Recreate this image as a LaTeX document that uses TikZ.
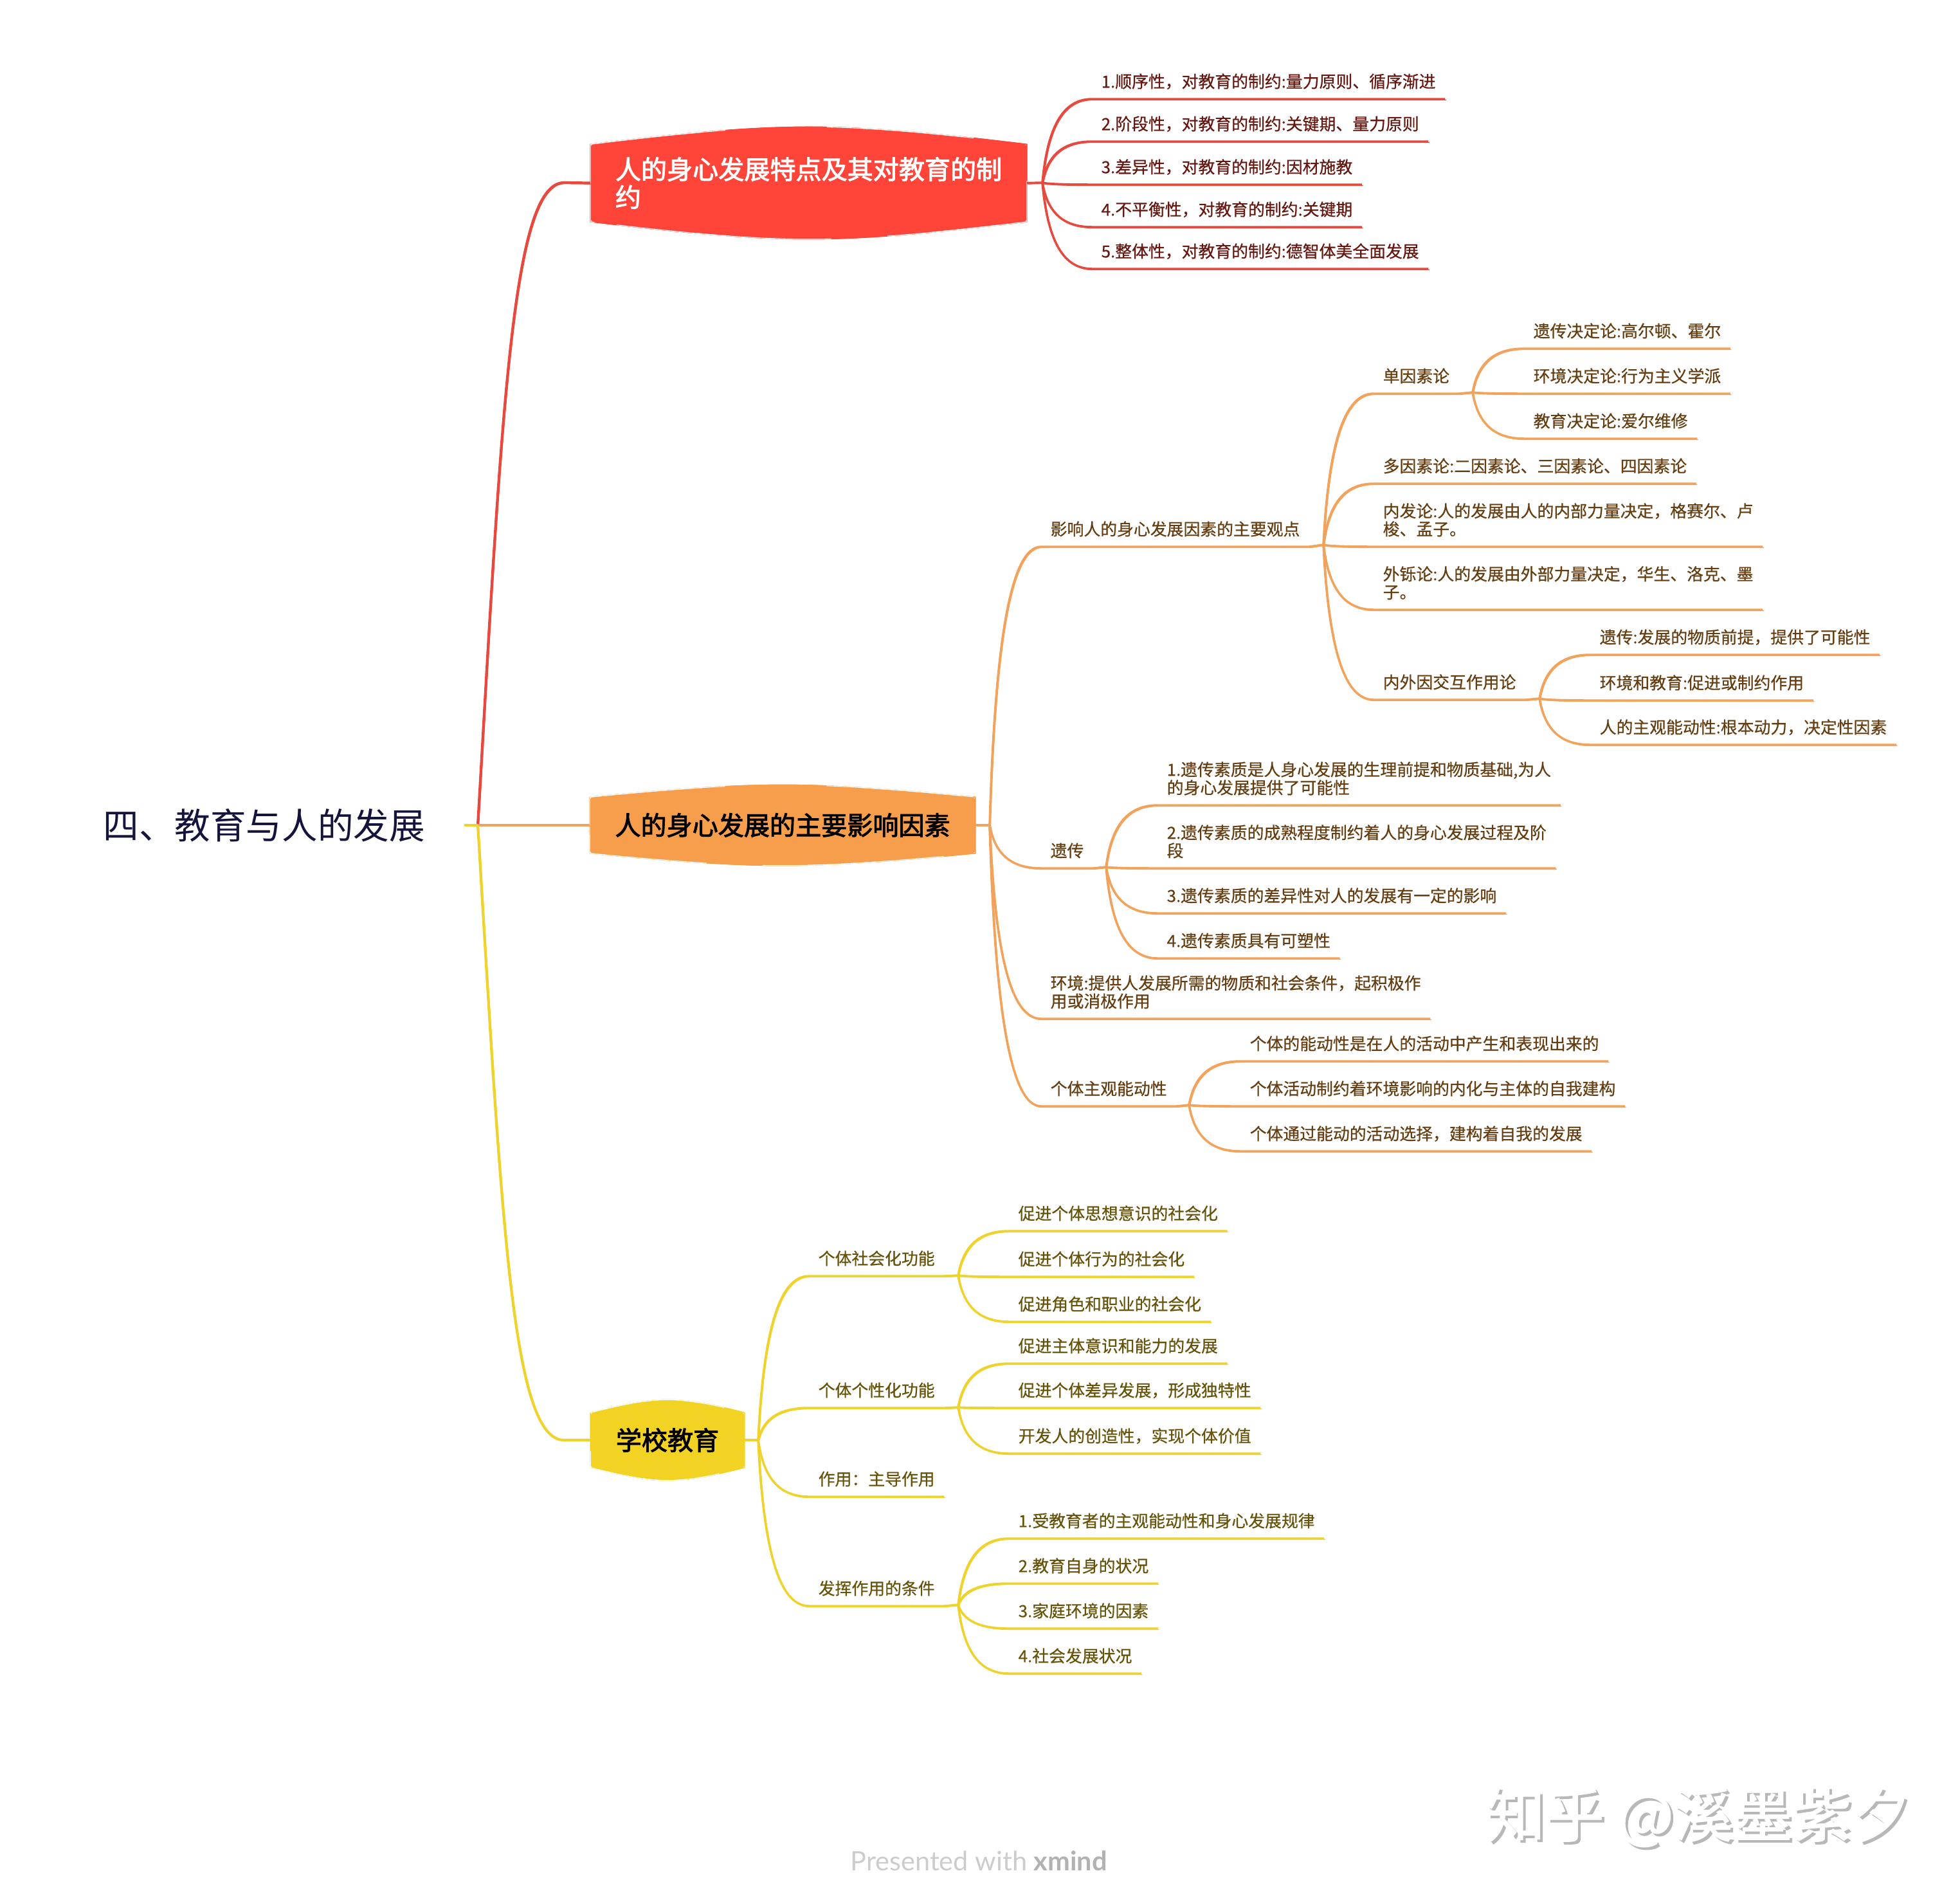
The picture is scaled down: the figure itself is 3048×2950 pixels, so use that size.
\documentclass[tikz,border=0pt]{standalone}
\usepackage{fontspec}
\setmainfont{Noto Sans CJK SC}
\newfontfamily\leaffont[FakeBold=0.6]{Noto Sans CJK SC}
\newfontfamily\topicfont[FakeBold=2.4]{Noto Sans CJK SC}
\newfontfamily\markfont[FakeBold=1.5]{Noto Sans CJK SC}
\newfontfamily\creditfont{Lato}
\usetikzlibrary{calc, backgrounds}

\definecolor{topicred}{HTML}{FF4539}
\definecolor{topicorange}{HTML}{F69E4C}
\definecolor{topicyellow}{HTML}{F2D222}
\definecolor{linered}{HTML}{E8493F}
\definecolor{lineorange}{HTML}{F2A25A}
\definecolor{lineyellow}{HTML}{EFD32C}
\definecolor{textred}{HTML}{661710}
\definecolor{textorange}{HTML}{653D10}
\definecolor{textyellow}{HTML}{665208}
\definecolor{textnavy}{HTML}{14143C}

\tikzset{
    curved/.style={to path={let \p1=(\tikztostart), \p2=(\tikztotarget) in .. controls ({\x1+#1*(\x2-\x1)},{\y1+0.65*(\y2-\y1)}) and ({\x1+0.4*(\x2-\x1)},\y2) .. (\tikztotarget)}},
    curved/.default=0.1,
    sketchline/.style={draw=#1, line width=1pt, line join=round, postaction={draw=#1, line width=0.35pt, transform canvas={shift={(1.5,1.5)}}}},
    redline/.style={sketchline=linered},
    orangeline/.style={sketchline=lineorange},
    yellowline/.style={sketchline=lineyellow},
    rootline/.style={line width=1.2pt},
    leaf/.style={anchor=south west, inner xsep=0.14cm, inner ysep=0.17cm, text depth=0pt, align=left, font=\fontsize{7.35}{8}\selectfont\leaffont},
    leafred/.style={leaf, text=textred},
    leaforange/.style={leaf, text=textorange},
    leafyellow/.style={leaf, text=textyellow},
    topic/.style={inner sep=0pt, align=left, font=\fontsize{11.4}{12.3}\selectfont\topicfont},
    watermark/.style={anchor=west, inner sep=0pt, font=\fontsize{26.2}{28}\selectfont\markfont},
}

\newcommand{\sketchpath}[2]{let \p1=(#1.north west), \p2=(#1.south east), \n1={0.5*(\x1+\x2)}, \n2={\x2-\x1} in
    ({\x1},{\y1-#2}) .. controls ({\x1+0.18*\n2},{\y1-0.45*#2}) and ({\n1-0.15*\n2},\y1) .. (\n1,\y1)
    .. controls ({\n1+0.15*\n2},\y1) and ({\x2-0.18*\n2},{\y1-0.45*#2}) .. ({\x2},{\y1-#2})
    -- ({\x2},{\y2+#2}) .. controls ({\x2-0.18*\n2},{\y2+0.45*#2}) and ({\n1+0.15*\n2},\y2) .. (\n1,\y2)
    .. controls ({\n1-0.15*\n2},\y2) and ({\x1+0.18*\n2},{\y2+0.45*#2}) .. ({\x1},{\y2+#2}) -- cycle}
\newcommand{\sketchbox}[3]{%
    \begin{scope}[on background layer]
        \fill[#2, rounded corners=0.06cm] \sketchpath{#1}{#3};
        \draw[#2, line width=0.4pt, shift={(-2,-2)}] \sketchpath{#1}{#3};
        \draw[#2, line width=0.3pt, shift={(2,2)}] \sketchpath{#1}{#3};
        \draw[white, line width=0.3pt, shift={(5,4)}, dash pattern=on 60pt off 45pt] \sketchpath{#1}{#3};
        \draw[white, line width=0.3pt, shift={(-5,-4)}, dash pattern=on 50pt off 70pt] \sketchpath{#1}{#3};
    \end{scope}
}

\begin{document}
\begin{tikzpicture}[x=0.01cm, y=-0.01cm]
    \useasboundingbox (0,0) rectangle (3048,2950);

    \node[anchor=west, inner sep=0pt, text width=5.6cm, text=textnavy, font=\fontsize{15.8}{17}\selectfont] (title) at (160,1283) {四、教育与人的发展};
    \coordinate (jroot) at (743,1283);

    \node[topic, minimum width=6.77cm, minimum height=1.73cm, text=white] (physical) at (1257.5,284.5) {人的身心发展特点及其对教育的制\\约};
    \node[topic, minimum width=5.98cm, minimum height=1.24cm, text=black] (factors) at (1217,1283) {人的身心发展的主要影响因素};
    \node[topic, minimum width=2.38cm, minimum height=1.24cm, text=black] (school) at (1038,2239) {学校教育};
    \sketchbox{physical}{topicred}{0.27cm}
    \sketchbox{factors}{topicorange}{0.19cm}
    \sketchbox{school}{topicyellow}{0.2cm}

    \coordinate (stubred) at (877,284);
    \coordinate (stubyellow) at (877,2239);
    \coordinate (jred) at (1621,284);
    \coordinate (jorange) at (1539,1283);
    \coordinate (jyellow) at (1179,2239);

    \node[leafred] (seq) at (1698,154) {1.顺序性，对教育的制约:量力原则、循序渐进};
    \node[leafred] (stage) at (1698,220) {2.阶段性，对教育的制约:关键期、量力原则};
    \node[leafred] (diff) at (1698,287) {3.差异性，对教育的制约:因材施教};
    \node[leafred] (uneven) at (1698,353) {4.不平衡性，对教育的制约:关键期};
    \node[leafred] (whole) at (1698,418) {5.整体性，对教育的制约:德智体美全面发展};

    \node[leaforange] (views) at (1619,850) {影响人的身心发展因素的主要观点};
    \coordinate (jviews) at (2058,847);
    \node[leaforange] (single) at (2136,612) {单因素论};
    \coordinate (jsingle) at (2290,610);
    \node[leaforange] (heredet) at (2370,542) {遗传决定论:高尔顿、霍尔};
    \node[leaforange] (envdet) at (2370,612) {环境决定论:行为主义学派};
    \node[leaforange] (edudet) at (2370,682) {教育决定论:爱尔维修};
    \node[leaforange] (multi) at (2136,752) {多因素论:二因素论、三因素论、四因素论};
    \node[leaforange] (inner) at (2136,850) {内发论:人的发展由人的内部力量决定，格赛尔、卢\\梭、孟子。};
    \node[leaforange] (outer) at (2136,948) {外铄论:人的发展由外部力量决定，华生、洛克、墨\\子。};
    \node[leaforange] (mutual) at (2136,1088) {内外因交互作用论};
    \coordinate (jmutual) at (2394,1086);
    \node[leaforange] (mutualhere) at (2473,1018) {遗传:发展的物质前提，提供了可能性};
    \node[leaforange] (mutualenv) at (2473,1089) {环境和教育:促进或制约作用};
    \node[leaforange] (mutualself) at (2473,1158) {人的主观能动性:根本动力，决定性因素};

    \node[leaforange] (heredity) at (1619,1350) {遗传};
    \coordinate (jheredity) at (1720,1348);
    \node[leaforange] (hereone) at (1800,1252) {1.遗传素质是人身心发展的生理前提和物质基础,为人\\的身心发展提供了可能性};
    \node[leaforange] (heretwo) at (1800,1350) {2.遗传素质的成熟程度制约着人的身心发展过程及阶\\段};
    \node[leaforange] (herethree) at (1800,1420) {3.遗传素质的差异性对人的发展有一定的影响};
    \node[leaforange] (herefour) at (1800,1490) {4.遗传素质具有可塑性};
    \node[leaforange] (environ) at (1619,1584) {环境:提供人发展所需的物质和社会条件，起积极作\\用或消极作用};
    \node[leaforange] (agency) at (1619,1720) {个体主观能动性};
    \coordinate (jagency) at (1849,1718);
    \node[leaforange] (agencyone) at (1929,1650) {个体的能动性是在人的活动中产生和表现出来的};
    \node[leaforange] (agencytwo) at (1929,1720) {个体活动制约着环境影响的内化与主体的自我建构};
    \node[leaforange] (agencythree) at (1929,1790) {个体通过能动的活动选择，建构着自我的发展};

    \node[leafyellow] (social) at (1258,1984) {个体社会化功能};
    \coordinate (jsocial) at (1490,1983);
    \node[leafyellow] (socialone) at (1569,1914) {促进个体思想意识的社会化};
    \node[leafyellow] (socialtwo) at (1569,1985) {促进个体行为的社会化};
    \node[leafyellow] (socialthree) at (1569,2055) {促进角色和职业的社会化};
    \node[leafyellow] (person) at (1258,2189) {个体个性化功能};
    \coordinate (jperson) at (1490,2188);
    \node[leafyellow] (personone) at (1569,2120) {促进主体意识和能力的发展};
    \node[leafyellow] (persontwo) at (1569,2189) {促进个体差异发展，形成独特性};
    \node[leafyellow] (personthree) at (1569,2260) {开发人的创造性，实现个体价值};
    \node[leafyellow] (role) at (1258,2327) {作用：主导作用};
    \node[leafyellow] (cond) at (1258,2497) {发挥作用的条件};
    \coordinate (jcond) at (1490,2495);
    \node[leafyellow] (condone) at (1569,2392) {1.受教育者的主观能动性和身心发展规律};
    \node[leafyellow] (condtwo) at (1569,2462) {2.教育自身的状况};
    \node[leafyellow] (condthree) at (1569,2532) {3.家庭环境的因素};
    \node[leafyellow] (condfour) at (1569,2602) {4.社会发展状况};

    \draw[redline, rootline] (jroot) to[curved=0.28] (stubred) -- (physical.west);
    \draw[orangeline, rootline] (jroot) -- (factors.west);
    \draw[yellowline, rootline] (jroot) to[curved=0.28] (stubyellow) -- (school.west);
    \draw[yellowline, rootline] (title.east) -- (jroot);

    \draw[redline] (physical.east) -- (jred);
    \draw[redline] (jred) to[curved] (seq.south west) -- (seq.south east);
    \draw[redline] (jred) to[curved] (stage.south west) -- (stage.south east);
    \draw[redline] (jred) to[curved] (diff.south west) -- (diff.south east);
    \draw[redline] (jred) to[curved] (uneven.south west) -- (uneven.south east);
    \draw[redline] (jred) to[curved] (whole.south west) -- (whole.south east);

    \draw[orangeline] (factors.east) -- (jorange);
    \draw[orangeline] (jorange) to[curved] (views.south west) -- (views.south east) -- (jviews);
    \draw[orangeline] (jorange) to[curved] (heredity.south west) -- (heredity.south east) -- (jheredity);
    \draw[orangeline] (jorange) to[curved] (environ.south west) -- (environ.south east);
    \draw[orangeline] (jorange) to[curved] (agency.south west) -- (agency.south east) -- (jagency);
    \draw[orangeline] (jviews) to[curved] (single.south west) -- (single.south east) -- (jsingle);
    \draw[orangeline] (jviews) to[curved] (multi.south west) -- (multi.south east);
    \draw[orangeline] (jviews) to[curved] (inner.south west) -- (inner.south east);
    \draw[orangeline] (jviews) to[curved] (outer.south west) -- (outer.south east);
    \draw[orangeline] (jviews) to[curved] (mutual.south west) -- (mutual.south east) -- (jmutual);
    \draw[orangeline] (jsingle) to[curved] (heredet.south west) -- (heredet.south east);
    \draw[orangeline] (jsingle) to[curved] (envdet.south west) -- (envdet.south east);
    \draw[orangeline] (jsingle) to[curved] (edudet.south west) -- (edudet.south east);
    \draw[orangeline] (jmutual) to[curved] (mutualhere.south west) -- (mutualhere.south east);
    \draw[orangeline] (jmutual) to[curved] (mutualenv.south west) -- (mutualenv.south east);
    \draw[orangeline] (jmutual) to[curved] (mutualself.south west) -- (mutualself.south east);
    \draw[orangeline] (jheredity) to[curved] (hereone.south west) -- (hereone.south east);
    \draw[orangeline] (jheredity) to[curved] (heretwo.south west) -- (heretwo.south east);
    \draw[orangeline] (jheredity) to[curved] (herethree.south west) -- (herethree.south east);
    \draw[orangeline] (jheredity) to[curved] (herefour.south west) -- (herefour.south east);
    \draw[orangeline] (jagency) to[curved] (agencyone.south west) -- (agencyone.south east);
    \draw[orangeline] (jagency) to[curved] (agencytwo.south west) -- (agencytwo.south east);
    \draw[orangeline] (jagency) to[curved] (agencythree.south west) -- (agencythree.south east);

    \draw[yellowline] (school.east) -- (jyellow);
    \draw[yellowline] (jyellow) to[curved] (social.south west) -- (social.south east) -- (jsocial);
    \draw[yellowline] (jyellow) to[curved] (person.south west) -- (person.south east) -- (jperson);
    \draw[yellowline] (jyellow) to[curved] (role.south west) -- (role.south east);
    \draw[yellowline] (jyellow) to[curved] (cond.south west) -- (cond.south east) -- (jcond);
    \draw[yellowline] (jsocial) to[curved] (socialone.south west) -- (socialone.south east);
    \draw[yellowline] (jsocial) to[curved] (socialtwo.south west) -- (socialtwo.south east);
    \draw[yellowline] (jsocial) to[curved] (socialthree.south west) -- (socialthree.south east);
    \draw[yellowline] (jperson) to[curved] (personone.south west) -- (personone.south east);
    \draw[yellowline] (jperson) to[curved] (persontwo.south west) -- (persontwo.south east);
    \draw[yellowline] (jperson) to[curved] (personthree.south west) -- (personthree.south east);
    \draw[yellowline] (jcond) to[curved] (condone.south west) -- (condone.south east);
    \draw[yellowline] (jcond) to[curved] (condtwo.south west) -- (condtwo.south east);
    \draw[yellowline] (jcond) to[curved] (condthree.south west) -- (condthree.south east);
    \draw[yellowline] (jcond) to[curved] (condfour.south west) -- (condfour.south east);

    \node[watermark, text=black!28] (markshadow) at (2314,2829) {知乎 @溪墨紫夕};
    \node[watermark, text=white] (mark) at (2310,2825) {知乎 @溪墨紫夕};
    \node[anchor=west, inner sep=0pt, text=black!20, font=\fontsize{11.8}{12}\selectfont\creditfont] (credit) at (1322,2893) {Presented with \textcolor{black!30}{\textbf{xmind}}};
\end{tikzpicture}
\end{document}
